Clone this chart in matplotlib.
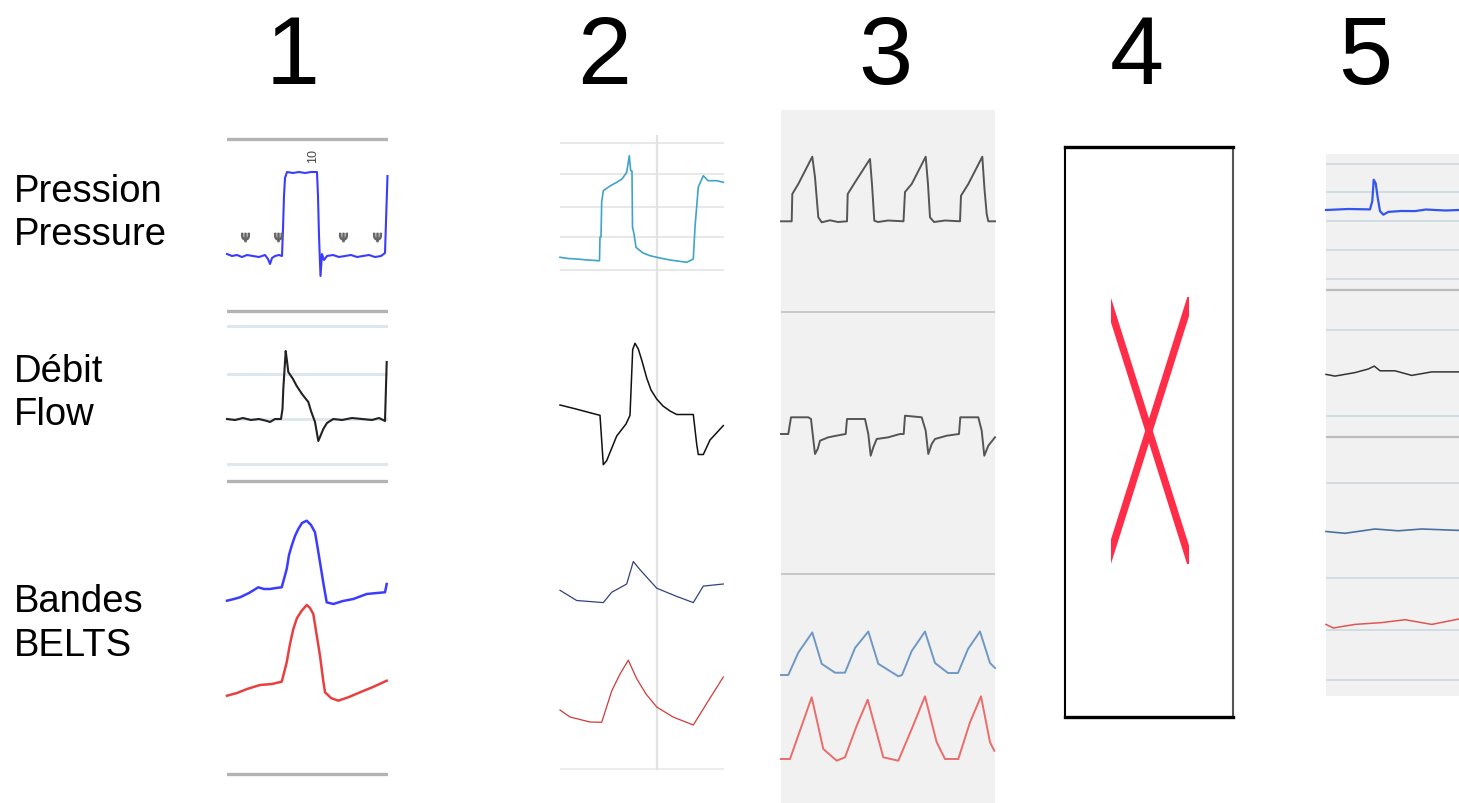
import matplotlib
matplotlib.use("Agg")
import matplotlib.pyplot as plt
from matplotlib.patches import Rectangle

plt.rcParams['font.family'] = ['Liberation Sans', 'DejaVu Sans']

W, H = 1459, 804

# ---------------- text content ----------------
column_titles = ["1", "2", "3", "4", "5"]
row_labels = [["Pression", "Pressure"], ["Débit", "Flow"], ["Bandes", "BELTS"]]

# ---------------- data (time in samples, amplitude in display units, up = positive) -------------
# Panel 1
p1_pres_t = [0, 5, 10, 15, 20, 26, 32, 38, 41, 43, 45, 48, 52, 55, 56, 57, 58, 60, 66, 72, 78, 84, 90,
             91, 92, 93.5, 95, 97, 100, 106, 112, 118, 124, 130, 136, 142, 148, 154, 158, 159.5, 160.5]
p1_pres_v = [2, 0, 1, -1, 1, 0, -1, 1, -3, -8, -2, 0, 1, 0, 27, 60, 78, 84, 83, 84, 83, 84, 84,
             60, 20, -20, 2, -4, 0, 1, -1, 0, 1, -1, 0, 1, -1, 0, 3, 50, 80]
p1_event_t = [18, 51, 116, 150]
p1_flow_t = [0, 8, 16, 24, 32, 40, 43, 48, 54, 55.5, 56.3, 58.7, 60, 61.3, 66, 69.7, 75, 81.3, 84, 88,
             91.3, 93, 96.3, 100, 106.3, 115, 125, 135, 145, 152, 158, 159.7]
p1_flow_v = [0, -1, 1, -1, 0, -2, -3, 0, 0, 10, 30, 68, 58, 47, 40, 33, 25, 17, 8, -3,
             -22, -18, -10, -4, 0, -1, 1, 0, -1, 1, -2, 57]
p1_belt1_t = [0, 7, 13, 22, 31.3, 37, 43, 49, 54.7, 57, 59.7, 62, 64.7, 68, 71.3, 75, 79.7, 84, 88,
              90.5, 93, 96.5, 99.7, 106.3, 116, 126.3, 139.7, 150, 158, 159.7]
p1_belt1_v = [-1.7, 0, 1.7, 6, 11.7, 10, 10, 11, 11.7, 20, 30, 44, 53.3, 63, 70, 76, 78.3, 74, 66.7,
              52, 36.7, 15, -3.3, -5, -2, 0, 5, 6, 6.7, 15]
p1_belt2_t = [0, 10, 20, 33, 45, 54.7, 57, 59.7, 63, 66.3, 70, 74.7, 79.7, 83, 86.3, 89.5, 93, 96,
              98, 104, 111.3, 122, 133, 146, 159.7]
p1_belt2_v = [3.3, 6, 10, 14, 15, 17.3, 26, 36.7, 55, 70, 81, 88.3, 94, 91, 85, 65, 43.3, 20,
              6.7, 1, -1.7, 2, 6.7, 12, 18.3]

# Panel 2
p2_pres_t = [0, 8, 16.7, 28, 38.3, 39.5, 40, 41, 41.7, 43.3, 50, 56.7, 62, 66.7, 69.3, 70.7, 72, 72.5,
             74, 76, 83, 90, 100, 110, 126.7, 133.3, 135, 138.3, 143.3, 148, 156.7, 163.3]
p2_pres_v = [1.7, 0.5, 0, -1, -1.7, -1.7, 22, 22, 57, 68.3, 73, 76.7, 80, 86.7, 103.3, 88.3, 88, 32,
             25, 11.7, 6, 3.3, 1, -1, -3.3, 0, 32, 72, 83.3, 78.3, 78.3, 76.7]
p2_flow_t = [0, 16, 36.7, 40, 43.3, 46.7, 56.7, 66, 70, 72.7, 75, 78.3, 82, 86.7, 91, 96.7, 103, 110,
             116.7, 133.3, 136.7, 138.3, 143.3, 150, 163.3]
p2_flow_v = [10, 6, 0.5, -0.3, -49.7, -45.6, -21, -9, -0.3, 65.5, 71.7, 66, 54, 37, 25, 16, 9, 4,
             0.5, 0.5, -29.2, -39.5, -39.5, -25, -10.6]
p2_belt1_t = [0, 16.7, 43.3, 51.7, 66.7, 73.3, 80, 96.7, 116.7, 133.3, 143.3, 163.3]
p2_belt1_v = [8.7, -1.5, -3.6, 6.7, 15, 37.5, 29.3, 10.8, 2.6, -3.6, 12.9, 15]
p2_belt2_t = [0, 10, 30, 41.7, 51.7, 60, 68.3, 76.7, 86, 96.7, 113, 133.3, 146.7, 163.3]
p2_belt2_v = [9, 2, -3, -3.3, 28, 45, 58.8, 40.3, 25, 12, 2, -6, 15.6, 42]

# Panel 3
p3_pres_t = [0, 10.7, 11.3, 17.3, 31.3, 34, 37.3, 40.7, 49, 57, 66, 66.7, 74, 89, 91, 93.3, 97, 107,
             122.5, 124, 130.7, 144.7, 147, 149, 153, 164, 179, 180, 187.3, 201.3, 203.5, 205.7, 207.3, 214]
p3_pres_v = [0, 0, 27.3, 37.3, 64.6, 44, 4, -1, 1, -0.7, 0, 27.3, 39, 62.3, 37, 0.6, -0.7, 0.8,
             0, 29.3, 37.3, 64.6, 37, 4, -0.7, 0.8, 0, 25.6, 37.3, 64.6, 32, 7.3, 0, 0]
p3_flow_t = [0, 7.3, 10, 27.3, 30, 31.3, 34, 36.7, 39, 47.3, 59, 64.7, 66, 84, 87.3, 89.7, 92.3,
             95.7, 107.3, 119, 122.7, 124, 140.7, 144.7, 147.3, 150.7, 154, 165.7, 178, 179.3,
             197.3, 200.7, 203.3, 207.3, 214]
p3_flow_v = [0, 0, 16.7, 16.7, 15, 3.3, -20, -15, -6.7, -3.3, -1, 0, 15, 15, 0, -21.7, -13.3,
             -5, -3.3, 0, 0, 18.3, 16.7, 3.3, -20, -10, -5, -1.7, 0, 16.7, 16.7, 3.3, -21.7, -11.7, -3.3]
p3_belt1_t = [0, 7.3, 17.3, 31.3, 40.7, 54, 64, 74, 87.3, 97.3, 117.3, 121, 130.7, 144, 154, 167,
              177, 187, 199, 209, 214]
p3_belt1_v = [-6, -6, 16.4, 36.6, 5.2, -3.7, -3.7, 21, 37.5, 5.2, -7.3, -6, 18, 37.5, 6, -4, -4,
              20, 37.5, 6, 1]
p3_belt2_t = [0, 9, 20.7, 30.7, 42.3, 55.7, 64, 75.7, 86.7, 102.3, 117.3, 130.7, 144, 155.7, 164,
              177.3, 189, 200, 209, 213.3]
p3_belt2_v = [0, 0, 33.3, 61.7, 10, -1.7, 1.7, 33.3, 59.3, 1.7, -1.7, 30, 62.7, 16.7, 0, 0,
              36.7, 62.7, 16.7, 8.3]

# Panel 4 (cross mark, in box fractions)
p4_cross_a_x = [0.25, 0.75]
p4_cross_b_x = [0.75, 0.25]

# Panel 5
p5_pres_t = [0, 22.3, 44, 46.3, 47.7, 49.7, 51.7, 54, 57.3, 62.3, 75, 89, 100, 109, 120, 133]
p5_pres_v = [0, 1, 0.6, 8.9, 30.3, 26.7, 12.4, -1.1, -4.7, -1.9, -1, -1.1, 0.5, 0, -0.5, 0]
p5_flow_t = [0, 9, 29, 42.3, 48.3, 54, 69, 85.7, 105.7, 133]
p5_flow_v = [-2.4, -4.1, -0.6, 3, 5.9, 1.2, 1.2, -3.4, 0.1, 0.1]
p5_belt1_t = [0, 19, 49, 72.3, 95.7, 133]
p5_belt1_v = [-1.5, -3.3, 1, -0.8, 1, -0.4]
p5_belt2_t = [0, 7.3, 29, 55.7, 79, 105.7, 133]
p5_belt2_v = [-0.4, -4, -0.4, 1.4, 4.3, -0.4, 5]

# ---------------- layout ----------------
fig = plt.figure(figsize=(W / 100, H / 100), dpi=100)
fig.patch.set_facecolor('white')


def px_axes(x0, y0, x1, y1, bg=None, z=1):
    ax = fig.add_axes([x0 / W, 1 - y1 / H, (x1 - x0) / W, (y1 - y0) / H], zorder=z)
    ax.set_xlim(0, x1 - x0)
    ax.set_ylim(y1 - y0, 0)
    ax.axis('off')
    if bg is not None:
        ax.add_patch(Rectangle((0, 0), x1 - x0, y1 - y0, facecolor=bg, edgecolor='none', zorder=0))
    return ax


def trace(ax, top, base, t, v, **kw):
    r = base - top
    ax.plot(t, [r - a for a in v], solid_joinstyle='round', clip_on=False, **kw)


def hrule(ax, top, row, **kw):
    ax.axhline(row - top, **kw)


# titles
title_x = [293, 604, 885, 1137, 1365]
for s, x in zip(column_titles, title_x):
    fig.text(x / W, 1 - 84 / H, s, fontsize=70, ha='center', va='baseline', color='black')

# row labels
label_rows = [(202, 245), (382, 425), (612, 656)]
for (l1, l2), (b1, b2) in zip(row_labels, label_rows):
    fig.text(14 / W, 1 - b1 / H, l1, fontsize=27.5, ha='left', va='baseline')
    fig.text(14 / W, 1 - b2 / H, l2, fontsize=27.5, ha='left', va='baseline')

# ---- Panel 1 ----
P1 = (227, 130, 388, 780)
ax1 = px_axes(*P1)
top1 = P1[1]
for r in [140, 311.5, 481.5, 775]:
    hrule(ax1, top1, r, color='#b3b3b3', lw=2.4, zorder=1)
for r in [327, 375, 420, 465]:
    hrule(ax1, top1, r, color='#dde7ed', lw=2.2, zorder=1)
trace(ax1, top1, 257, p1_pres_t, p1_pres_v, color='#3b3bff', lw=1.5, zorder=3)
ax1.plot(p1_event_t, [238 - top1] * len(p1_event_t), ls='none', marker=r'$\Psi$',
         ms=6, color='#666666', zorder=4)
ax1.text(86, 156 - top1, "10", rotation=90, fontsize=9, color='#444444', ha='center', va='center')
trace(ax1, top1, 420, p1_flow_t, p1_flow_v, color='#222222', lw=1.5, zorder=3)
trace(ax1, top1, 600, p1_belt1_t, p1_belt1_v, color='#3c3cff', lw=1.8, zorder=3)
trace(ax1, top1, 700, p1_belt2_t, p1_belt2_v, color='#e84040', lw=1.8, zorder=3)

# ---- Panel 2 ----
P2 = (560, 130, 724, 780)
ax2 = px_axes(*P2)
top2 = P2[1]
for r in [144, 175, 207.7, 238.3, 271]:
    hrule(ax2, top2, r, color='#e8e8e8', lw=1.4, zorder=1)
hrule(ax2, top2, 770, color='#ececec', lw=1.4, zorder=1)
ax2.plot([96.7, 96.7], [137 - top2, 770 - top2], color='#e2e2e2', lw=1.6, zorder=1)
trace(ax2, top2, 260, p2_pres_t, p2_pres_v, color='#40a4c6', lw=1.2, zorder=3)
trace(ax2, top2, 416, p2_flow_t, p2_flow_v, color='#111111', lw=1.1, zorder=3)
trace(ax2, top2, 600, p2_belt1_t, p2_belt1_v, color='#33427e', lw=0.9, zorder=3)
trace(ax2, top2, 720, p2_belt2_t, p2_belt2_v, color='#d03a3a', lw=0.9, zorder=3)

# ---- Panel 3 ----
P3 = (781, 111, 995, 804)
ax3 = px_axes(*P3, bg='#f1f1f1')
top3 = P3[1]
for r in [313, 575]:
    hrule(ax3, top3, r, color='#c4c4c4', lw=1.3, zorder=1)
trace(ax3, top3, 222.3, p3_pres_t, p3_pres_v, color='#555555', lw=1.4, zorder=3)
trace(ax3, top3, 435, p3_flow_t, p3_flow_v, color='#555555', lw=1.4, zorder=3)
trace(ax3, top3, 670, p3_belt1_t, p3_belt1_v, color='#6f98c4', lw=1.4, zorder=3)
trace(ax3, top3, 760, p3_belt2_t, p3_belt2_v, color='#ec6b6b', lw=1.4, zorder=3)

# ---- Panel 4 ----
P4 = (1065, 148, 1233, 718)
ax4 = fig.add_axes([P4[0] / W, 1 - P4[3] / H, (P4[2] - P4[0]) / W, (P4[3] - P4[1]) / H])
ax4.set_xlim(0, 1)
ax4.set_ylim(0, 1)
ax4.set_xticks([])
ax4.set_yticks([])
ax4.set_facecolor('white')
ax4.spines['top'].set_linewidth(2.4)
ax4.spines['bottom'].set_linewidth(2.4)
ax4.spines['left'].set_linewidth(1.5)
ax4.spines['right'].set_linewidth(1.5)
ax4.spines['right'].set_color('#555555')
clip = Rectangle((0.271, 0.268), 0.469, 0.468, transform=ax4.transData, facecolor='none', edgecolor='none')
ax4.add_patch(clip)
for xs in (p4_cross_a_x, p4_cross_b_x):
    ln, = ax4.plot([xs[0] - 0.2 * (xs[1] - xs[0]), xs[1] + 0.2 * (xs[1] - xs[0])],
                   [0.736 + 0.2 * 0.468, 0.268 - 0.2 * 0.468],
                   color='#ff2d48', lw=5.3, solid_capstyle='butt')
    ln.set_clip_path(clip)

# ---- Panel 5 ----
P5 = (1326, 155, 1459, 697)
ax5 = px_axes(*P5, bg='#f1f1f1')
top5 = P5[1]
for r in [164.6, 193, 221.8, 251.4, 280, 331.4, 417, 484.3, 579, 630.7, 680.7]:
    hrule(ax5, top5, r, color='#c9d7e0', lw=1.1, zorder=1)
for r in [291.4, 437.9]:
    hrule(ax5, top5, r, color='#bcbcbc', lw=1.6, zorder=1)
trace(ax5, top5, 211, p5_pres_t, p5_pres_v, color='#3355ee', lw=1.6, zorder=3)
trace(ax5, top5, 373, p5_flow_t, p5_flow_v, color='#333333', lw=1.1, zorder=3)
trace(ax5, top5, 531, p5_belt1_t, p5_belt1_v, color='#4a72a0', lw=1.2, zorder=3)
trace(ax5, top5, 625, p5_belt2_t, p5_belt2_v, color='#e05555', lw=1.1, zorder=3)

fig.savefig('out.png', dpi=100)
